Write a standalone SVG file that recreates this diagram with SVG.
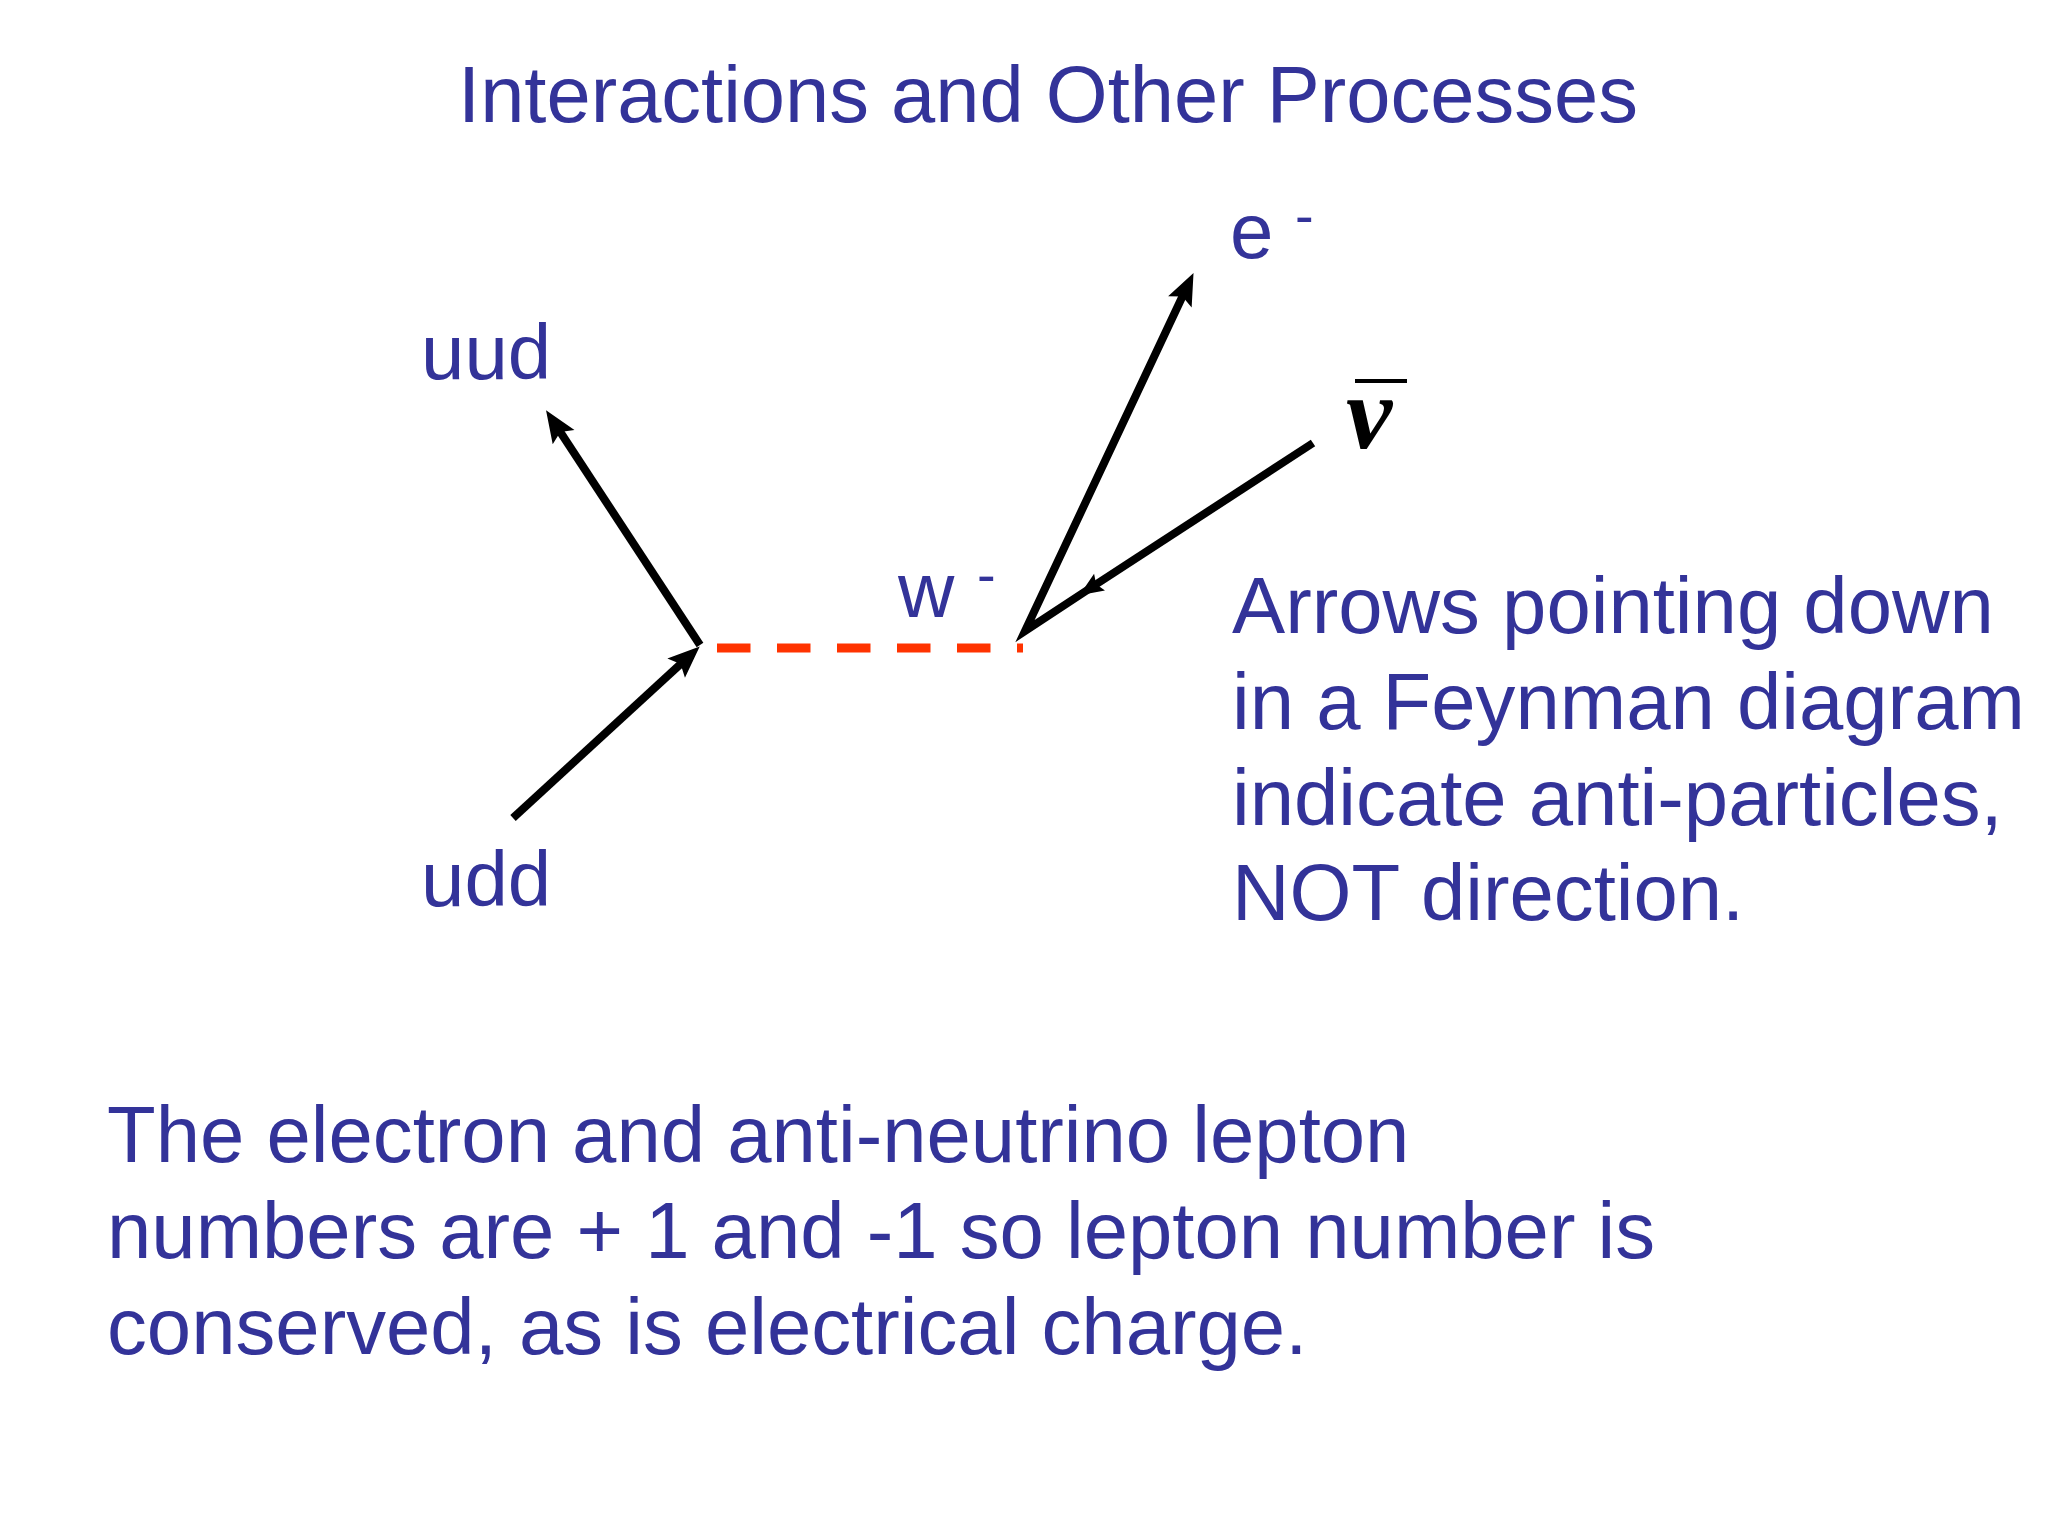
<svg xmlns="http://www.w3.org/2000/svg" width="2048" height="1536" viewBox="0 0 2048 1536">
<style>
.t{font-family:"Liberation Sans",Arial,sans-serif;fill:#333399}
.body{font-size:79.7px}
.lbl{font-size:78px}
.sup{font-size:56px}
.ln{stroke:#000;stroke-width:8;fill:none}
</style>
<defs>
<marker id="arr" markerUnits="userSpaceOnUse" markerWidth="34" markerHeight="28" refX="12" refY="13" orient="auto" overflow="visible">
<path d="M0,0 L32,13 L0,26 L6,13 z" fill="#000"/>
</marker>
<marker id="arrs" markerUnits="userSpaceOnUse" markerWidth="26" markerHeight="22" refX="9" refY="10" orient="auto" overflow="visible">
<path d="M0,0 L24,10 L0,20 L4,10 z" fill="#000"/>
</marker>
</defs>
<rect width="2048" height="1536" fill="#fff"/>
<g id="title"><text class="t" x="1048" y="122" font-size="79.5" text-anchor="middle">Interactions and Other Processes</text></g>
<g id="connectors">
<path class="ln" d="M513,818 L685,660" marker-end="url(#arr)"/>
<path class="ln" d="M700,645 L557,427" marker-end="url(#arr)"/>
<line x1="717" y1="648" x2="1023" y2="648" stroke="#FF3300" stroke-width="9" stroke-dasharray="33.5 26.5"/>
<path class="ln" d="M1313,443 L1092,587" marker-end="url(#arrs)"/>
<path class="ln" d="M1092,587 L1025,631 L1185,291" stroke-miterlimit="10" marker-end="url(#arr)"/>
</g>
<g id="node-uud"><text class="t lbl" x="421" y="379">uud</text></g>
<g id="node-udd"><text class="t lbl" x="421" y="906">udd</text></g>
<g id="node-w"><text class="t lbl" x="898" y="617">w</text><text class="t sup" x="977" y="594">-</text></g>
<g id="node-e"><text class="t lbl" x="1230" y="258">e</text><text class="t sup" x="1295" y="235">-</text></g>
<g id="node-nubar">
<line x1="1355" y1="381" x2="1407" y2="381" stroke="#000" stroke-width="4"/>
<text x="1346" y="448" font-family="'Liberation Serif','Times New Roman',serif" font-size="104" font-weight="bold" font-style="italic" fill="#000">ν</text>
</g>
<g id="note-right">
<text class="t body" x="1232" y="633">Arrows pointing down</text>
<text class="t body" x="1232" y="729">in a Feynman diagram</text>
<text class="t body" x="1232" y="825">indicate anti-particles,</text>
<text class="t body" x="1232" y="920">NOT direction.</text>
</g>
<g id="note-bottom">
<text class="t body" x="107" y="1162">The electron and anti-neutrino lepton</text>
<text class="t body" x="107" y="1258">numbers are + 1 and -1 so lepton number is</text>
<text class="t body" x="107" y="1354">conserved, as is electrical charge.</text>
</g>
</svg>
